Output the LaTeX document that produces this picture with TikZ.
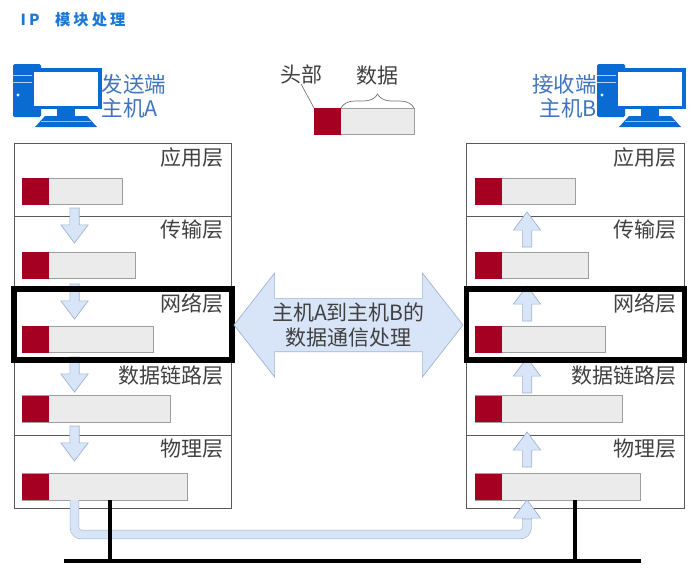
\documentclass[tikz,border=0pt]{standalone}
\usepackage{fontspec}
\setmainfont{Noto Sans CJK SC}
\usetikzlibrary{calc, positioning, shapes.arrows, decorations.pathreplacing}
\definecolor{host blue}{HTML}{0A6CD2}
\definecolor{host text}{HTML}{3F74BE}
\definecolor{title blue}{HTML}{1C78D4}
\definecolor{layer text}{HTML}{404040}
\definecolor{head red}{HTML}{A50021}
\definecolor{body grey}{HTML}{EBEBEB}
\definecolor{flow fill}{HTML}{D8E5F8}
\definecolor{flow edge}{HTML}{9FB4CF}
\tikzset{
	layer box/.style={draw=black!65, line width=.8pt, minimum width=217.5pt, minimum height=73pt, inner sep=0pt, outer sep=0pt, anchor=north west},
	layer name/.style={text=layer text, font=\fontsize{21}{24}\selectfont, inner sep=0pt},
	host name/.style={text=host text, font=\fontsize{21.5}{24}\selectfont, inner sep=0pt, anchor=north west},
	pkt body/.style={draw=black!38, line width=.8pt, fill=body grey, minimum height=26.5pt, inner sep=0pt, outer sep=0pt, anchor=north west},
	pkt head/.style={fill=head red, minimum width=27pt, minimum height=26.5pt, inner sep=0pt, outer sep=0pt, anchor=north west},
	down arrow/.style={single arrow, draw=flow edge, fill=flow fill, line width=.7pt, shape border rotate=270, anchor=tip, minimum width=27pt, minimum height=35pt, single arrow head extend=9pt, single arrow tip angle=74, inner sep=4.3pt, outer sep=0pt},
	up arrow/.style={down arrow, shape border rotate=90},
	net box/.style={draw=black, line width=5.5pt, minimum width=218pt, minimum height=71pt, inner sep=0pt, outer sep=0pt, anchor=north west},
	wire/.style={draw=black, line width=4pt},
}
% name, x, y, width
\newcommand{\datapacket}[4]{
	\node[pkt body, minimum width=#4pt] (#1) at (#2,#3) {};
	\node[pkt head] (#1 head) at (#1.north west) {};
}
\newcommand{\hosticon}[1]{
	\begin{scope}[xshift=#1pt]
		\fill[host blue, rounded corners=1.5pt] (13,64) rectangle (41,117);
		\draw[white!70!host blue, line width=.5pt] (13,82) -- (41,82) (13,75) -- (41,75);
		\fill[white] (18,95) circle (1.6);
		\fill[host blue] (32,68) rectangle (102,109);
		\fill[white] (33.5,72) rectangle (97.5,105.5);
		\fill[host blue] (57,109) rectangle (75,116);
		\fill[host blue] (45,116) -- (87,116) -- (97,127) -- (35,127) -- cycle;
		\draw[white!60!host blue, line width=.4pt] (41,121) -- (91,121);
	\end{scope}
}
\begin{document}
\begin{tikzpicture}[x=1pt, y=-1pt]
	\useasboundingbox (0,0) rectangle (700,574);
	\node[anchor=west, inner sep=0pt, text=title blue, font=\fontsize{15.3}{16}\bfseries\addfontfeature{LetterSpace=20}] (page title) at (20.5,20) {IP\hspace{15.5pt}模块处理};

	\hosticon{0}
	\hosticon{584}
	\node[host name, align=left] (sender) at (101.5,74) {发送端\\主机A};
	\node[host name, align=right, anchor=north east] (receiver) at (597,74) {接收端\\主机B};

	\datapacket{pkt top}{314}{108}{100}
	\node[layer name] (head name) at (301,74) {头部};
	\node[layer name] (data name) at (377,76) {数据};
	\draw[black!60, line width=.6pt] (head name.south) -- (pkt top head.north west);
	\draw[black!55, line width=.7pt, decorate, decoration={brace, amplitude=14pt}] (pkt top head.north east) -- (pkt top.north east);

	\node[layer box] (layer a1) at (14,143) {};
	\node[layer box] (layer a2) at (14,216) {};
	\node[layer box] (layer a3) at (14,289) {};
	\node[layer box] (layer a4) at (14,362) {};
	\node[layer box] (layer a5) at (14,435) {};
	\node[layer box] (layer b1) at (466.5,143) {};
	\node[layer box] (layer b2) at (466.5,216) {};
	\node[layer box] (layer b3) at (466.5,289) {};
	\node[layer box] (layer b4) at (466.5,362) {};
	\node[layer box] (layer b5) at (466.5,435) {};

	\node[layer name, below left=4pt and 7.5pt of layer a1.north east] (name a1) {应用层};
	\node[layer name, below left=4pt and 7.5pt of layer a2.north east] (name a2) {传输层};
	\node[layer name, below left=4pt and 7.5pt of layer a3.north east] (name a3) {网络层};
	\node[layer name, below left=4pt and 7.5pt of layer a4.north east] (name a4) {数据链路层};
	\node[layer name, below left=4pt and 7.5pt of layer a5.north east] (name a5) {物理层};
	\node[layer name, below left=4pt and 7.5pt of layer b1.north east] (name b1) {应用层};
	\node[layer name, below left=4pt and 7.5pt of layer b2.north east] (name b2) {传输层};
	\node[layer name, below left=4pt and 7.5pt of layer b3.north east] (name b3) {网络层};
	\node[layer name, below left=4pt and 7.5pt of layer b4.north east] (name b4) {数据链路层};
	\node[layer name, below left=4pt and 7.5pt of layer b5.north east] (name b5) {物理层};

	\datapacket{pkt a1}{22}{178}{100.5}
	\datapacket{pkt a2}{22}{252}{113.5}
	\datapacket{pkt a3}{22}{326}{131}
	\datapacket{pkt a4}{22}{395.5}{148.5}
	\datapacket{pkt a5}{22}{473.5}{165.5}
	\datapacket{pkt b1}{475}{178}{100.5}
	\datapacket{pkt b2}{475}{252}{113.5}
	\datapacket{pkt b3}{475}{326}{130.5}
	\datapacket{pkt b4}{475}{395.5}{147.5}
	\datapacket{pkt b5}{475}{473.5}{165.5}

	\node[down arrow] (down a1) at (74.5,243) {};
	\node[down arrow] (down a2) at (74.5,319) {};
	\node[down arrow] (down a3) at (74.5,392) {};
	\node[down arrow] (down a4) at (74.5,461) {};
	\node[up arrow] (up b1) at (527,212) {};
	\node[up arrow] (up b2) at (527,286) {};
	\node[up arrow] (up b3) at (527,358) {};
	\node[up arrow] (up b4) at (527,432) {};

	\coordinate (flow out) at (74.5,500);
	\coordinate (flow in) at (527,518);
	\draw[draw=flow edge, double=flow fill, double distance=8.2pt, line width=.6pt, rounded corners=7pt] (flow out) |- (300.75,534.5) -| (flow in);
	\node[up arrow, minimum height=19pt] (up b5) at (527,500) {};

	\node[net box] (net a) at (14,289) {};
	\node[net box] (net b) at (466.5,289) {};

	\coordinate (bus left) at (64,561);
	\coordinate (bus right) at (641,561);
	\coordinate (tap a) at (109.5,500);
	\coordinate (tap b) at (575,500);
	\draw[wire] (bus left) -- (bus right);
	\draw[wire] (tap a) -- (tap a |- bus left);
	\draw[wire] (tap b) -- (tap b |- bus left);

	\node[double arrow, draw=flow edge, fill=flow fill, line width=.7pt, minimum height=229pt, minimum width=104pt, double arrow head extend=21.5pt, double arrow tip angle=104, inner sep=0pt, text=layer text, align=center, font=\fontsize{21}{25}\selectfont] (link) at (348.5,325) {主机A到主机B的\\数据通信处理};
\end{tikzpicture}
\end{document}
